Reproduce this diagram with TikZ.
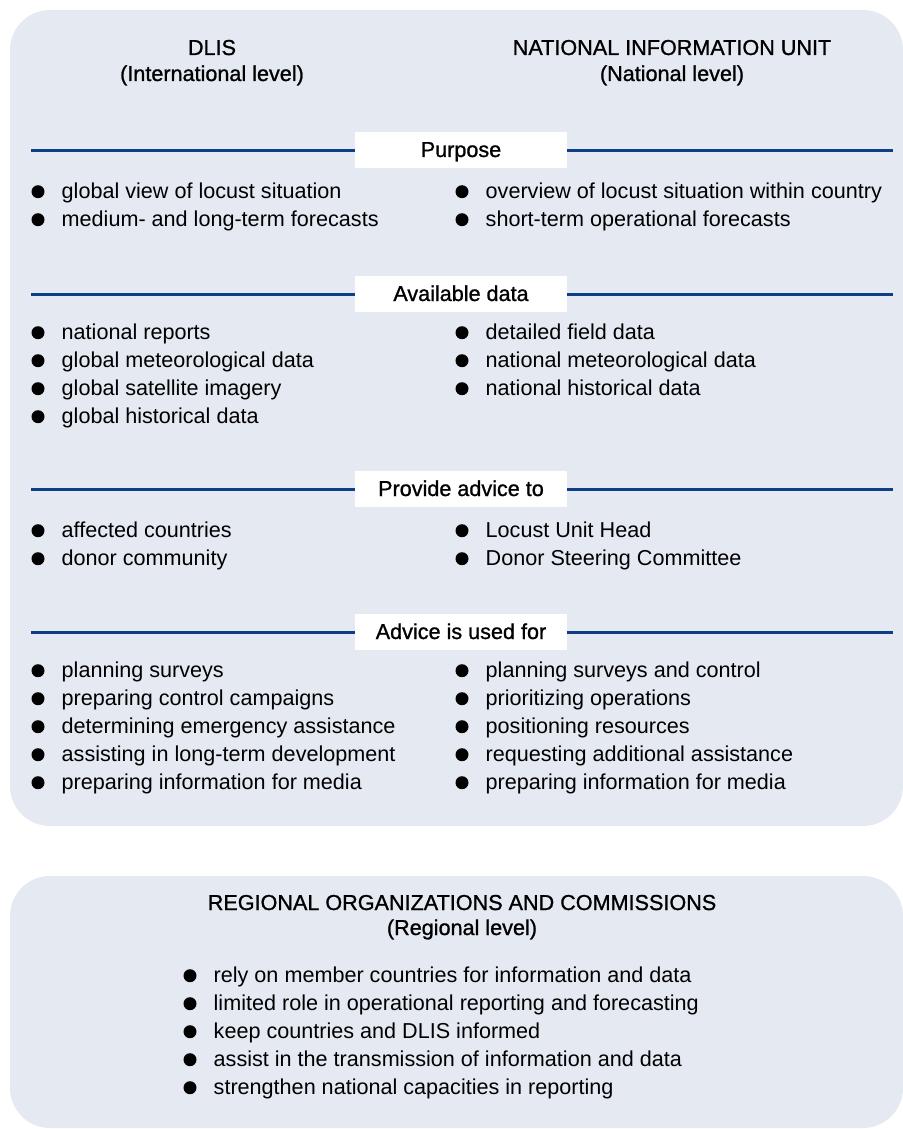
\documentclass[tikz,border=0pt]{standalone}
\usepackage{fontspec}
\setmainfont{Liberation Sans}
\newfontfamily\medfont[FakeBold=1]{Liberation Sans}
\definecolor{sfondo}{RGB}{228,233,242}
\definecolor{linea}{RGB}{14,62,134}
\tikzset{
  item/.style={anchor=base west, inner sep=0pt, font=\fontsize{21.6}{25}\selectfont},
  pallino/.style={circle, fill=black, inner sep=0pt, minimum size=13pt},
  titolo/.style={anchor=base, inner sep=0pt, font=\medfont\fontsize{21.6}{25}\selectfont},
  etichetta/.style={fill=white, minimum width=212pt, minimum height=36pt, inner sep=0pt,
    text height=16pt, text depth=2pt, font=\medfont\fontsize{21.6}{25}\selectfont},
  riga/.style={draw=linea, line width=3pt}
}
% elenco puntato: prefisso, x del pallino, prima linea di base, voci
\newcommand{\elenco}[4]{%
  \foreach \t [count=\i] in {#4} {
    \node[pallino] (#1p\i) at (#2,{#3+28*(\i-1)-6.3}) {};
    \node[item] (#1t\i) at ({#2+23.5},{#3+28*(\i-1)}) {\t};
  }}
\begin{document}
\begin{tikzpicture}[x=1pt,y=-1pt]
    \useasboundingbox (0,0) rectangle (902,1129);
    % riquadri
    \fill [sfondo,rounded corners=40pt] (10,10) rectangle (903,826);
    \fill [sfondo,rounded corners=40pt] (10,876) rectangle (903,1128);
    % titoli di colonna
    \node[titolo] (dlis) at (212,55) {DLIS};
    \node[titolo] (dlisliv) at (212,81) {(International level)};
    \node[titolo] (niu) at (672,55) {NATIONAL INFORMATION UNIT};
    \node[titolo] (niuliv) at (672,81) {(National level)};
    % sezioni
    \foreach \y/\nome/\testo in {150/sa/Purpose, 294/sb/Available data, 489/sc/Provide advice to, 632/sd/Advice is used for} {
      \coordinate (\nome l) at (31,\y);
      \coordinate (\nome r) at (893,\y);
      \node[etichetta] (\nome) at (461,\y) {\testo};
      \draw [riga] (\nome l) -- (\nome.west);
      \draw [riga] (\nome.east) -- (\nome r);
    }
    % voci
    \elenco{al}{38}{198}{global view of locust situation, medium- and long-term forecasts}
    \elenco{ar}{462}{198}{overview of locust situation within country, short-term operational forecasts}
    \elenco{bl}{38}{339}{national reports, global meteorological data, global satellite imagery, global historical data}
    \elenco{br}{462}{339}{detailed field data, national meteorological data, national historical data}
    \elenco{cl}{38}{537}{affected countries, donor community}
    \elenco{cr}{462}{537}{Locust Unit Head, Donor Steering Committee}
    \elenco{dl}{38}{677}{planning surveys, preparing control campaigns, determining emergency assistance, assisting in long-term development, preparing information for media}
    \elenco{dr}{462}{677}{planning surveys and control, prioritizing operations, positioning resources, requesting additional assistance, preparing information for media}
    % livello regionale
    \node[titolo] (reg) at (462,910) {REGIONAL ORGANIZATIONS AND COMMISSIONS};
    \node[titolo] (regliv) at (462,935) {(Regional level)};
    \elenco{e}{190}{982}{rely on member countries for information and data, limited role in operational reporting and forecasting, keep countries and DLIS informed, assist in the transmission of information and data, strengthen national capacities in reporting}
\end{tikzpicture}
\end{document}
